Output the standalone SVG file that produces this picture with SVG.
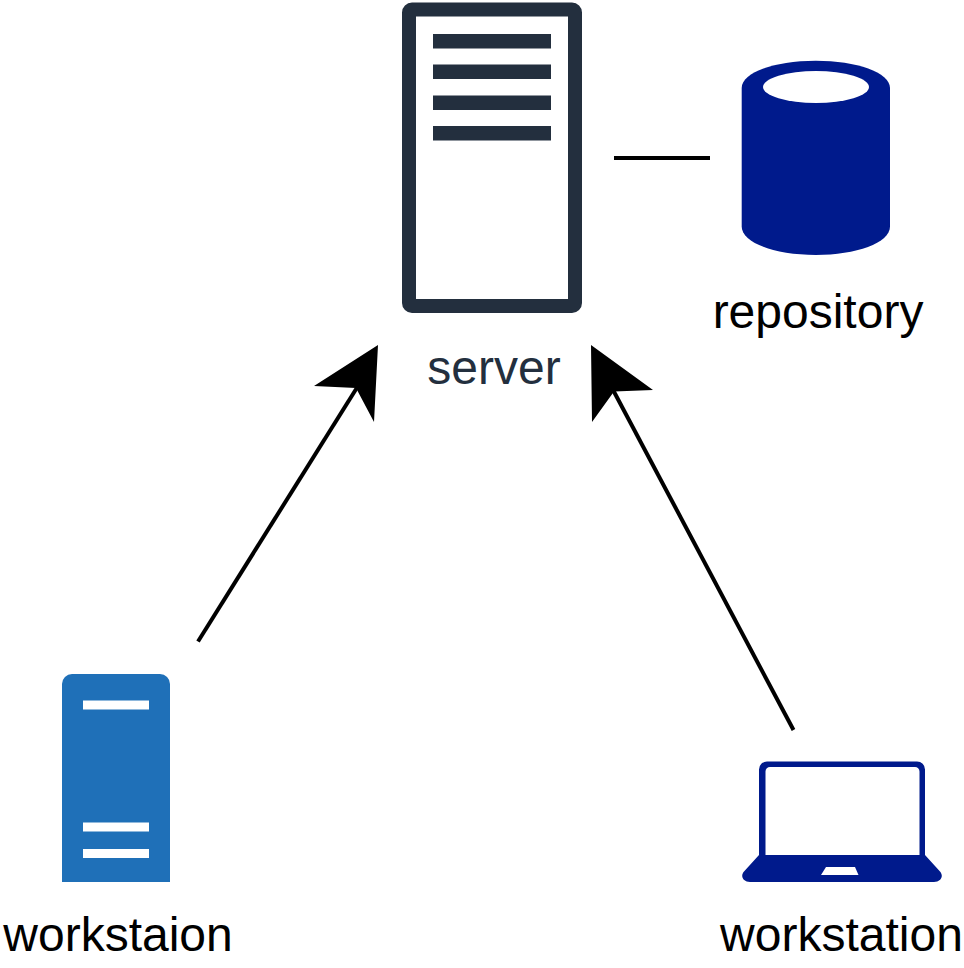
<svg xmlns="http://www.w3.org/2000/svg" width="964" height="968" viewBox="0 0 964 968">
<style>
text{font-family:"Liberation Sans",Arial,sans-serif;font-size:48px;text-anchor:middle;fill:#000}
.c{fill:none;stroke:#000;stroke-width:4}
.navy{fill:#001A8C}
.dark{fill:#232F3E}
</style>
<rect width="964" height="968" fill="#fff"/>
<g id="connectors">
<path class="c" d="M198 641.500L358 386"/>
<polygon points="378,345 374,422 356,388 314,386"/>
<path class="c" d="M793.500 730L612 388"/>
<polygon points="591,345 653,390 614,391.500 592,422"/>
<path class="c" d="M614 158H710"/>
</g>
<g id="server">
<path class="dark" fill-rule="evenodd" d="M412 2.500H572a10 10 0 0 1 10 10V303a10 10 0 0 1-10 10H412a10 10 0 0 1-10-10V12.500a10 10 0 0 1 10-10ZM416 16.500V299H568V16.500Z"/>
<rect class="dark" x="433" y="34" width="118" height="14.500"/>
<rect class="dark" x="433" y="64.500" width="118" height="14.500"/>
<rect class="dark" x="433" y="95.500" width="118" height="14.500"/>
<rect class="dark" x="433" y="126" width="118" height="14.500"/>
<text x="494" y="384" style="fill:#232F3E">server</text>
</g>
<g id="repository">
<path class="navy" d="M741.700 88C741.700 72.500 775 60.700 815.800 60.700S890 72.500 890 88V226.500C890 243 856 255 815.800 255S741.700 243 741.700 226.500Z"/>
<ellipse cx="816" cy="87" rx="53" ry="16" fill="#fff"/>
<text x="818" y="328">repository</text>
</g>
<g id="workstaion">
<path d="M72 674H160a10 10 0 0 1 10 10V882H62V684a10 10 0 0 1 10-10Z" fill="#1F70B8"/>
<rect x="83" y="700.500" width="66" height="9" fill="#fff"/>
<rect x="83" y="822.500" width="66" height="9" fill="#fff"/>
<rect x="83" y="849" width="66" height="9" fill="#fff"/>
<text x="118" y="951">workstaion</text>
</g>
<g id="workstation">
<path class="navy" fill-rule="evenodd" d="M767 761.500H917a8 8 0 0 1 8 8V855L940 871.500C944 876 941 882 934 882H750C743 882 740 876 744 871.500L759 855V769.500a8 8 0 0 1 8-8ZM770 767a4.500 4.500 0 0 0-4.500 4.500V855H919.500V771.500a4.500 4.500 0 0 0-4.500-4.500ZM826 867L821 875H858.500L855 867Z"/>
<text x="841.500" y="951">workstation</text>
</g>
</svg>
